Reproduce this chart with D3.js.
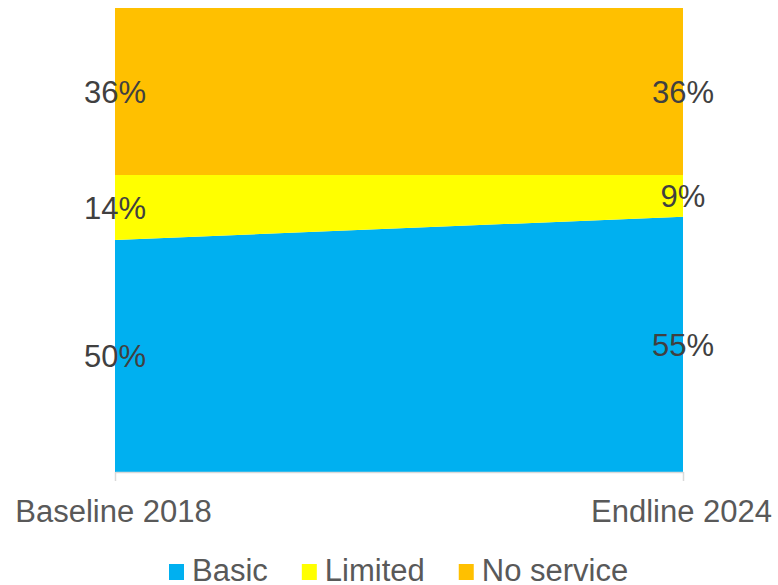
<!DOCTYPE html>
<html>
<head>
<meta charset="utf-8">
<script src="https://cdn.jsdelivr.net/npm/d3@7"></script>
<style>
  html, body { margin: 0; padding: 0; background: #fff; }
  svg { display: block; font-family: "Liberation Sans", Arial, sans-serif; }
</style>
</head>
<body>
<svg id="chart" width="778" height="585"></svg>
<script>
const categories = ["Baseline 2018", "Endline 2024"];
const seriesNames = ["Basic", "Limited", "No service"];
const basic = [50, 55];
const limited = [14, 9];
const noService = [36, 36];
const colors = ["#00B0F0", "#FFFF00", "#FFC000"];

const rows = categories.map((c, i) => ({
  cat: c,
  "Basic": basic[i],
  "Limited": limited[i],
  "No service": noService[i]
}));

const svg = d3.select("#chart");
const plotLeft = 115, plotRight = 683, plotTop = 8, plotBottom = 472;

const x = d3.scalePoint().domain(categories).range([plotLeft, plotRight]);
const y = d3.scaleLinear().domain([0, 100]).range([plotBottom, plotTop]);

const stack = d3.stack().keys(seriesNames);
const stacked = stack(rows);

const area = d3.area()
  .x(d => x(d.data.cat))
  .y0(d => y(d[0]))
  .y1(d => y(d[1]));

svg.append("g").selectAll("path")
  .data(stacked)
  .join("path")
  .attr("d", area)
  .attr("fill", (d, i) => colors[i]);

// axis
const axis = d3.axisBottom(x).tickSize(9).tickSizeOuter(0);
const ax = svg.append("g").attr("transform", `translate(0,${plotBottom})`).call(axis);
ax.select(".domain").attr("stroke", "#d9d9d9").attr("stroke-width", 1.5);
ax.selectAll(".tick line").attr("stroke", "#d9d9d9").attr("stroke-width", 1.5);
ax.selectAll(".tick text")
  .attr("fill", "#595959")
  .attr("font-size", 31)
  .attr("font-family", "'Liberation Sans', Arial, sans-serif")
  .attr("dy", null)
  .attr("x", -2)
  .attr("y", 50);

// data labels
const labels = svg.append("g");
stacked.forEach((s) => {
  s.forEach(d => {
    labels.append("text")
      .attr("x", x(d.data.cat))
      .attr("y", (y(d[0]) + y(d[1])) / 2)
      .attr("dy", "0.36em")
      .attr("text-anchor", "middle")
      .attr("font-size", 31)
      .attr("fill", "#404040")
      .text(d.data[s.key] + "%");
  });
});

// legend
const lg = svg.append("g");
let lx = 169;
seriesNames.forEach((name, i) => {
  lg.append("rect")
    .attr("x", lx).attr("y", 564)
    .attr("width", 15).attr("height", 16)
    .attr("fill", colors[i]);
  const t = lg.append("text")
    .attr("x", lx + 23).attr("y", 581)
    .attr("font-size", 31)
    .attr("fill", "#595959")
    .text(name);
  lx = lx + 23 + t.node().getComputedTextLength() + 34;
});
</script>
</body>
</html>
